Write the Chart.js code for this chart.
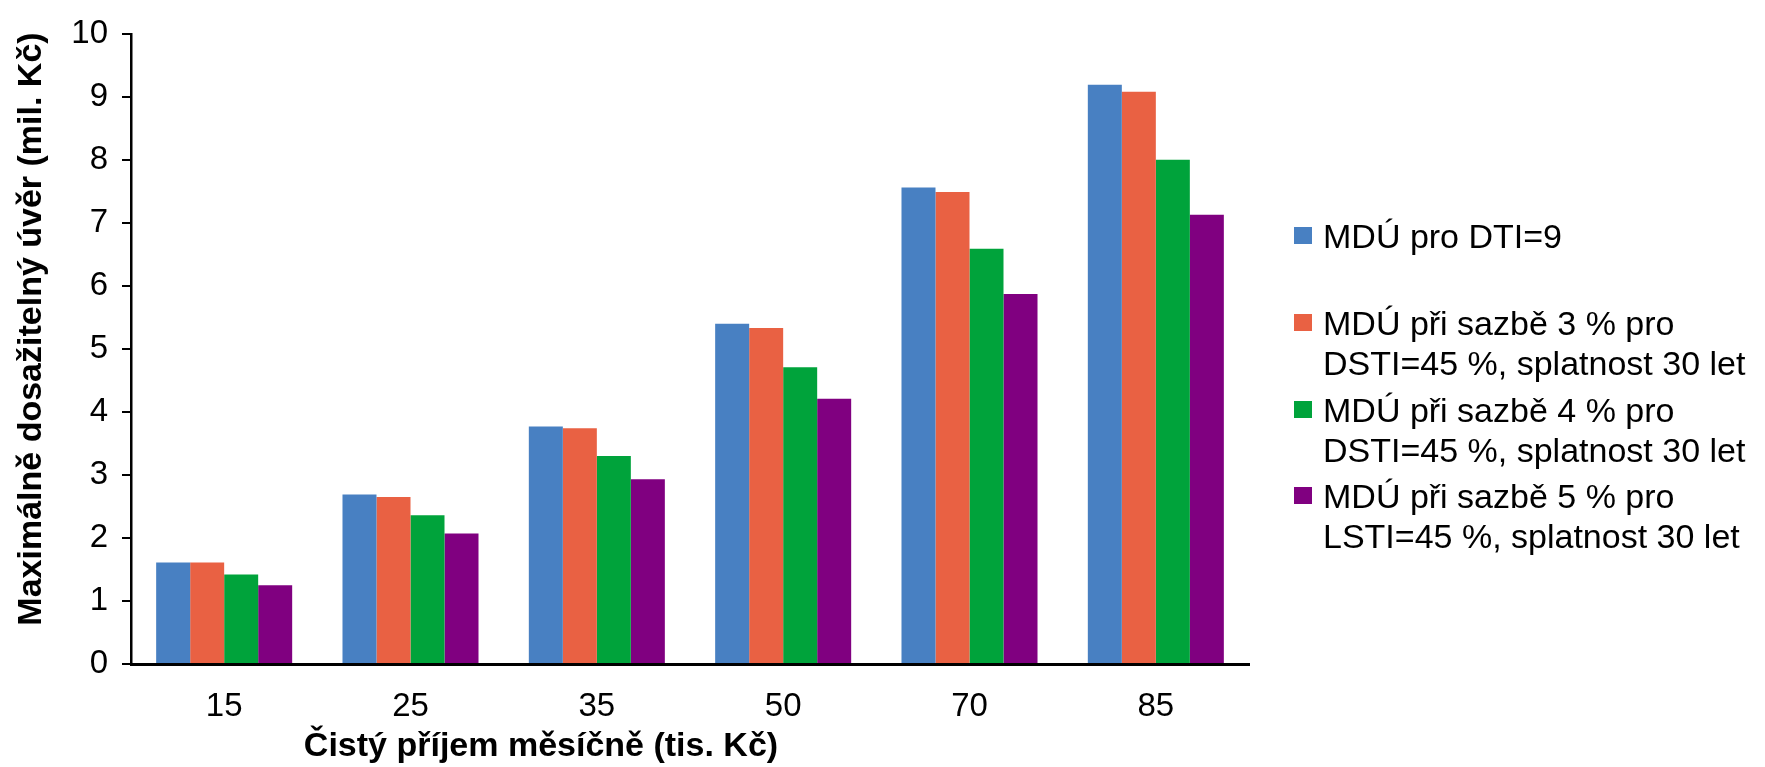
<!DOCTYPE html>
<html lang="cs">
<head>
<meta charset="utf-8">
<title>Maximálně dosažitelný úvěr</title>
<script src="https://cdn.jsdelivr.net/npm/chart.js@4/dist/chart.umd.min.js"></script>
<style>
  html, body { margin: 0; padding: 0; background: #ffffff; }
  #wrap { width: 1765px; height: 767px; }
</style>
</head>
<body>
<div id="wrap"><canvas id="chart" width="1765" height="767"></canvas></div>
<script>
// Net monthly income (thousand CZK)
const categories = ['15', '25', '35', '50', '70', '85'];

// Maximum attainable loan (million CZK) per scenario
const seriesDTI9  = [1.61, 2.69, 3.77, 5.40, 7.56, 9.19];
const seriesDSTI3 = [1.61, 2.65, 3.74, 5.33, 7.49, 9.08];
const seriesDSTI4 = [1.42, 2.36, 3.30, 4.71, 6.59, 8.00];
const seriesLSTI5 = [1.25, 2.07, 2.93, 4.21, 5.87, 7.13];

// Legend entries, one line per array element
const seriesLabels = [
  ['MDÚ pro DTI=9'],
  ['MDÚ při sazbě 3 % pro', 'DSTI=45 %, splatnost 30 let'],
  ['MDÚ při sazbě 4 % pro', 'DSTI=45 %, splatnost 30 let'],
  ['MDÚ při sazbě 5 % pro', 'LSTI=45 %, splatnost 30 let']
];
const seriesColors = ['#4880C2', '#E96143', '#00A33B', '#800080'];

const yTicks = [0, 1, 2, 3, 4, 5, 6, 7, 8, 9, 10];
const xTitle = 'Čistý příjem měsíčně (tis. Kč)';
const yTitle = 'Maximálně dosažitelný úvěr (mil. Kč)';

const FONT = '"Liberation Sans", Arial, sans-serif';

// Axis titles and the multi-line legend are painted after the chart
const annotations = {
  id: 'annotations',
  afterDraw(chart) {
    const ctx = chart.ctx;
    ctx.save();
    ctx.fillStyle = '#000';

    // x-axis title
    ctx.font = 'bold 34px ' + FONT;
    ctx.textAlign = 'center';
    ctx.textBaseline = 'alphabetic';
    ctx.fillText(xTitle, 541, 756);

    // y-axis title, rotated
    ctx.save();
    ctx.translate(41, 329);
    ctx.rotate(-Math.PI / 2);
    ctx.fillText(yTitle, 0, 0);
    ctx.restore();

    // legend
    ctx.font = '34px ' + FONT;
    ctx.textAlign = 'left';
    const firstBaselines = [248, 335, 422, 508];
    const lineGap = 40;
    chart.data.datasets.forEach((ds, i) => {
      const base = firstBaselines[i];
      ctx.fillStyle = ds.backgroundColor;
      ctx.fillRect(1294, base - 21, 18, 17);
      ctx.fillStyle = '#000';
      seriesLabels[i].forEach((line, j) => {
        ctx.fillText(line, 1323, base + j * lineGap);
      });
    });
    ctx.restore();
  }
};

const datasets = [seriesDTI9, seriesDSTI3, seriesDSTI4, seriesLSTI5].map((values, i) => ({
  label: seriesLabels[i].join(' '),
  data: values,
  backgroundColor: seriesColors[i],
  borderWidth: 0,
  categoryPercentage: 0.73,
  barPercentage: 1.0
}));

new Chart(document.getElementById('chart'), {
  type: 'bar',
  data: { labels: categories, datasets },
  options: {
    responsive: false,
    animation: false,
    devicePixelRatio: 1,
    layout: { padding: { left: 0, top: 20, right: 516, bottom: 0 } },
    plugins: {
      legend: { display: false },
      tooltip: { enabled: false }
    },
    scales: {
      x: {
        grid: { display: false, drawTicks: false, tickLength: 0 },
        border: { display: true, color: '#000', width: 3 },
        ticks: {
          color: '#000',
          padding: 23,
          font: { family: FONT, size: 33 }
        },
        afterFit(scale) { scale.height = 103; }
      },
      y: {
        min: 0,
        max: 10,
        afterBuildTicks(scale) { scale.ticks = yTicks.map(v => ({ value: v })); },
        grid: {
          drawOnChartArea: false,
          drawTicks: true,
          tickLength: 9,
          color: '#000',
          lineWidth: 2
        },
        border: { display: true, color: '#000', width: 2.5 },
        ticks: {
          color: '#000',
          padding: 14,
          font: { family: FONT, size: 33 }
        },
        afterFit(scale) { scale.width = 131; }
      }
    }
  },
  plugins: [annotations]
});
</script>
</body>
</html>
